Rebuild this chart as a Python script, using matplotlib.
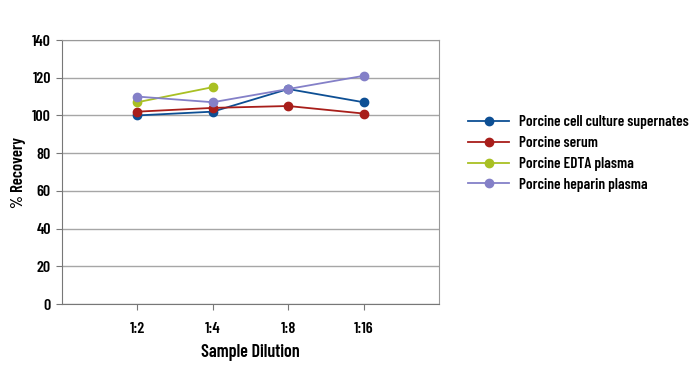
import matplotlib.pyplot as plt
from matplotlib import font_manager

# Datos
dilutions = ['1:2', '1:4', '1:8', '1:16']
cell_culture = [100, 102, 114, 107]
serum = [102, 104, 105, 101]
edta_plasma = [107, 115]
heparin_plasma = [110, 107, 114, 121]

series = [
    ('Porcine cell culture supernates', cell_culture, '#0d4f94'),
    ('Porcine serum', serum, '#a81e1a'),
    ('Porcine EDTA plasma', edta_plasma, '#a9c023'),
    ('Porcine heparin plasma', heparin_plasma, '#8480c8'),
]

# fuente estrecha parecida a la del original
names = {f.name for f in font_manager.fontManager.ttflist}
fam = [n for n in ['Barlow Condensed', 'Asap Condensed', 'Archivo Narrow'] if n in names]
plt.rcParams['font.family'] = fam + ['DejaVu Sans']

fig = plt.figure(figsize=(6.94, 3.65), dpi=100)
ax = fig.add_axes([0.0893, 0.1671, 0.5432, 0.7233])

x = list(range(1, len(dilutions) + 1))
for label, vals, color in series:
    ax.plot(x[:len(vals)], vals, color=color, marker='o', markersize=6,
            linewidth=1.3, label=label)

ax.set_xlim(0, 5)
ax.set_ylim(0, 140)
ax.set_yticks(range(0, 141, 20))
ax.set_xticks(x)
ax.set_xticklabels(dilutions)
ax.yaxis.grid(True, color='#a6a6a6', linewidth=1)
ax.set_axisbelow(True)

for side in ['left', 'bottom']:
    ax.spines[side].set_color('#777777')
for side in ['top', 'right']:
    ax.spines[side].set_color('#999999')
ax.tick_params(axis='both', colors='#777777', labelcolor='black', labelsize=11.5, length=4)
for t in ax.get_xticklabels() + ax.get_yticklabels():
    t.set_fontweight('semibold')
ax.tick_params(axis='x', pad=9)
ax.tick_params(axis='y', pad=4)

ax.set_xlabel('Sample Dilution', fontsize=13, fontweight='semibold', labelpad=6)
ax.set_ylabel('% Recovery', fontsize=12, fontweight='semibold', labelpad=4)

leg = ax.legend(loc='center left', bbox_to_anchor=(468 / 694, 1 - 153.5 / 365),
                bbox_transform=fig.transFigure, frameon=False, borderpad=0,
                borderaxespad=0, handlelength=2.7, labelspacing=0.45,
                handletextpad=0.65, prop={'size': 11, 'weight': 'semibold'})

fig.savefig('out.png', dpi=100)
